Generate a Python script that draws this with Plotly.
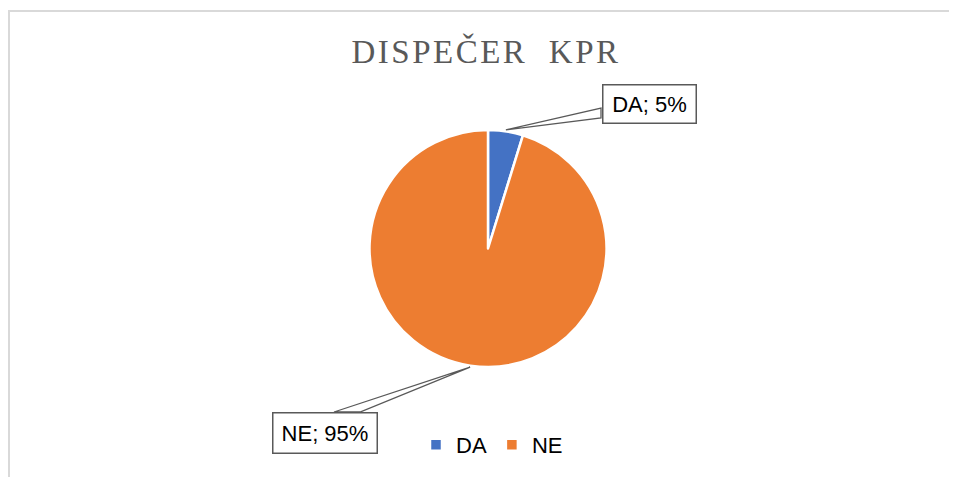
import math
import plotly.graph_objects as go

# ---- data ----
labels = ["DA", "NE"]
values = [1, 20]
colors = ["#4472C4", "#ED7D31"]
title_text = "DISPEČER\u00a0\u00a0KPR"

# the page places the figure 8px in from the top-left corner
OFF = 8
W, H = 957 - OFF, 477 - OFF

def px(x):
    return (x - OFF) / W

def py(y):
    return 1 - (y - OFF) / H

# pie geometry (layout, reference pixels)
cx, cy, r = 488, 248.5, 118.5

total = sum(values)
pcts = [v / total * 100 for v in values]
label_texts = [f"{l}; {round(p)}%" for l, p in zip(labels, pcts)]

fig = go.Figure()
fig.add_trace(go.Pie(
    labels=labels,
    values=values,
    sort=False,
    direction="clockwise",
    rotation=0,
    textinfo="none",
    hoverinfo="label+percent",
    marker=dict(colors=colors, line=dict(color="white", width=2.5)),
    domain=dict(x=[px(cx - r), px(cx + r)], y=[py(cy + r), py(cy - r)]),
    showlegend=True,
))

# callout boxes (layout positions, pixels): (left, top, right, bottom)
boxes = [(602, 84, 697, 124), (272, 412, 378, 454)]
# where the leader wedge meets the box: two base points
bases = [((601, 108), (601, 118)), ((334, 412), (360, 412))]

shapes = []
annotations = []
cum = 0
for i, v in enumerate(values):
    mid = (cum + v / 2) / total * 2 * math.pi
    cum += v
    ax = cx + (r + 1.5) * math.sin(mid)
    ay = cy - (r + 1.5) * math.cos(mid)
    (b1x, b1y), (b2x, b2y) = bases[i]
    path = (f"M{px(ax)},{py(ay)} L{px(b1x)},{py(b1y)} "
            f"L{px(b2x)},{py(b2y)} Z")
    shapes.append(dict(type="path", xref="paper", yref="paper", path=path,
                       line=dict(color="#595959", width=1.3),
                       fillcolor="white"))
    l, t, rr, b = boxes[i]
    annotations.append(dict(
        xref="paper", yref="paper",
        x=px((l + rr) / 2), y=py((t + b) / 2),
        xanchor="center", yanchor="middle",
        text=label_texts[i], showarrow=False,
        font=dict(family="Liberation Sans, Arial, sans-serif", size=22, color="#000000"),
        bgcolor="white", bordercolor="#595959", borderwidth=1.5,
        width=rr - l - 6, height=b - t - 6, borderpad=1.5,
    ))

# outer frame
shapes.append(dict(type="rect", xref="paper", yref="paper",
                   x0=px(9), x1=px(957 + 20), y0=py(11), y1=py(477 + 20),
                   line=dict(color="#D9D9D9", width=2), fillcolor="rgba(0,0,0,0)",
                   layer="below"))

fig.update_layout(
    width=W, height=H,
    margin=dict(l=0, r=0, t=0, b=0),
    paper_bgcolor="white",
    plot_bgcolor="white",
    title=dict(
        text=f'<span style="letter-spacing:2.5px">{title_text}</span>',
        x=px(486), xanchor="center",
        y=py(51), yanchor="middle",
        font=dict(family="Liberation Serif, Times New Roman, serif", size=33, color="#595959"),
    ),
    legend=dict(
        orientation="h",
        x=px(492), xanchor="center",
        y=py(445), yanchor="middle",
        font=dict(family="Liberation Sans, Arial, sans-serif", size=22, color="#000000"),
        itemwidth=30,
        bgcolor="rgba(0,0,0,0)",
    ),
    shapes=shapes,
    annotations=annotations,
)

fig.write_html("out.html")
